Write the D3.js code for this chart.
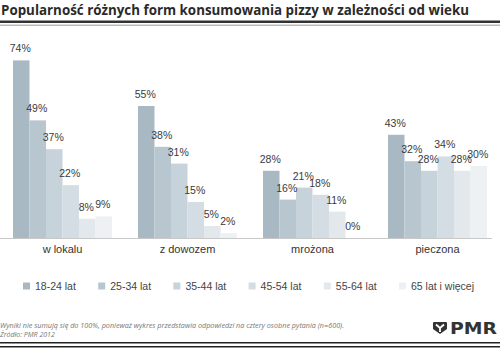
<!DOCTYPE html>
<html>
<head>
<meta charset="utf-8">
<script src="https://cdn.jsdelivr.net/npm/d3@7"></script>
<style>
  body { margin: 0; background: #fff; }
  svg { display: block; font-family: "Liberation Sans", Arial, sans-serif; }
</style>
</head>
<body>
<div id="chart"></div>
<script>
// chart data
const categories = ["w lokalu", "z dowozem", "mrożona", "pieczona"];
const ageGroups = ["18-24 lat", "25-34 lat", "35-44 lat", "45-54 lat", "55-64 lat", "65 lat i więcej"];
const values = {
    "w lokalu":  [74, 49, 37, 22, 8, 9],
    "z dowozem": [55, 38, 31, 15, 5, 2],
    "mrożona":   [28, 16, 21, 18, 11, 0],
    "pieczona":  [43, 32, 28, 34, 28, 30]
};
const colors = ["#a9b9c3", "#b8c6cf", "#c7d3da", "#d4dde3", "#e2e8ec", "#edf1f4"];

const title = "Popularność różnych form konsumowania pizzy w zależności od wieku";
const note1 = "Wyniki nie sumują się do 100%, ponieważ wykres przedstawia odpowiedzi na cztery osobne pytania (n=600).";
const note2 = "Źródło: PMR 2012";

const width = 500, height = 352;
const baseY = 238;

const svg = d3.select("#chart").append("svg")
    .attr("width", width)
    .attr("height", height);

// title + rules
svg.append("text")
    .attr("x", 1).attr("y", 15)
    .attr("font-size", 13.5)
    .attr("font-weight", "bold")
    .attr("fill", "#2a2a2a")
    .attr("font-family", "'Open Sans', sans-serif")
    .attr("textLength", 468)
    .attr("lengthAdjust", "spacingAndGlyphs")
    .text(title);
svg.append("rect").attr("x", 0).attr("y", 20.5).attr("width", width).attr("height", 2.5).attr("fill", "#333");
svg.append("rect").attr("x", 0).attr("y", 24.5).attr("width", width).attr("height", 1.5).attr("fill", "#bbb");

// scales
const x0 = d3.scaleBand()
    .domain(categories)
    .range([0, width])
    .paddingInner(0.208)
    .paddingOuter(0.104);

const x1 = d3.scaleBand()
    .domain(ageGroups)
    .range([0, x0.bandwidth()]);

const y = d3.scaleLinear()
    .domain([0, 100])
    .range([baseY, baseY - 240]);

const color = d3.scaleOrdinal().domain(ageGroups).range(colors);

// bars
const groups = svg.selectAll(".grp")
    .data(categories)
    .enter().append("g")
    .attr("class", "grp")
    .attr("transform", d => `translate(${x0(d)},0)`);

groups.selectAll("rect")
    .data(c => values[c].map((v, i) => ({ key: ageGroups[i], value: v })))
    .enter().append("rect")
    .attr("x", d => x1(d.key))
    .attr("y", d => y(d.value))
    .attr("width", x1.bandwidth())
    .attr("height", d => baseY - y(d.value))
    .attr("fill", d => color(d.key));

groups.selectAll(".lbl")
    .data(c => values[c].map((v, i) => ({ key: ageGroups[i], value: v })))
    .enter().append("text")
    .attr("class", "lbl")
    .attr("x", d => x1(d.key) + x1.bandwidth() / 2 - 1)
    .attr("y", d => y(d.value) - 8)
    .attr("text-anchor", "middle")
    .attr("font-size", 10.5)
    .attr("fill", "#3a3a3a")
    .text(d => d.value + "%");

// baseline
svg.append("line")
    .attr("x1", 0).attr("x2", 492)
    .attr("y1", baseY + 0.5).attr("y2", baseY + 0.5)
    .attr("stroke", "#c8c8c8");

// category labels
svg.selectAll(".cat")
    .data(categories)
    .enter().append("text")
    .attr("class", "cat")
    .attr("x", d => x0(d) + x0.bandwidth() / 2)
    .attr("y", 253)
    .attr("text-anchor", "middle")
    .attr("font-size", 11)
    .attr("fill", "#333")
    .text(d => d);

// legend
const legendX = d3.scalePoint().domain(ageGroups).range([23, 399]);
const legend = svg.selectAll(".leg")
    .data(ageGroups)
    .enter().append("g")
    .attr("class", "leg")
    .attr("transform", d => `translate(${legendX(d)},286)`);
legend.append("rect")
    .attr("x", 0).attr("y", -3.5)
    .attr("width", 7).attr("height", 7)
    .attr("fill", d => color(d));
legend.append("text")
    .attr("x", 12).attr("y", 4)
    .attr("font-size", 10.5)
    .attr("fill", "#444")
    .text(d => d);

// footnote
svg.append("text")
    .attr("x", 0).attr("y", 327.5)
    .attr("font-size", 7)
    .attr("font-style", "italic")
    .attr("fill", "#777")
    .attr("font-family", "'Open Sans', sans-serif")
    .attr("textLength", 344)
    .attr("lengthAdjust", "spacingAndGlyphs")
    .text(note1);
svg.append("text")
    .attr("x", 0).attr("y", 337)
    .attr("font-size", 7)
    .attr("font-style", "italic")
    .attr("fill", "#777")
    .attr("font-family", "'Open Sans', sans-serif")
    .text(note2);

// PMR logo
const logo = svg.append("g").attr("transform", "translate(440,328)");
logo.append("path")
    .attr("d", "M-7,-5 Q-7,-6 -6,-6 L6,-6 Q7,-6 7,-5 L7,1 L0,6 L-7,1 Z")
    .attr("fill", "#333");
logo.append("path")
    .attr("d", "M-4,-3.5 L0,0 L4,-3.5 M0,0 L0,4")
    .attr("stroke", "#fff").attr("stroke-width", 1.8).attr("fill", "none");
svg.append("text")
    .attr("x", 450).attr("y", 334)
    .attr("font-size", 15)
    .attr("font-weight", "bold")
    .attr("fill", "#333")
    .attr("font-family", "'DejaVu Sans', sans-serif")
    .attr("textLength", 47)
    .attr("lengthAdjust", "spacingAndGlyphs")
    .text("PMR");

// bottom rules
svg.append("rect").attr("x", 0).attr("y", 342).attr("width", width).attr("height", 1.5).attr("fill", "#222");
svg.append("rect").attr("x", 0).attr("y", 346).attr("width", width).attr("height", 1.5).attr("fill", "#222");
</script>
</body>
</html>
